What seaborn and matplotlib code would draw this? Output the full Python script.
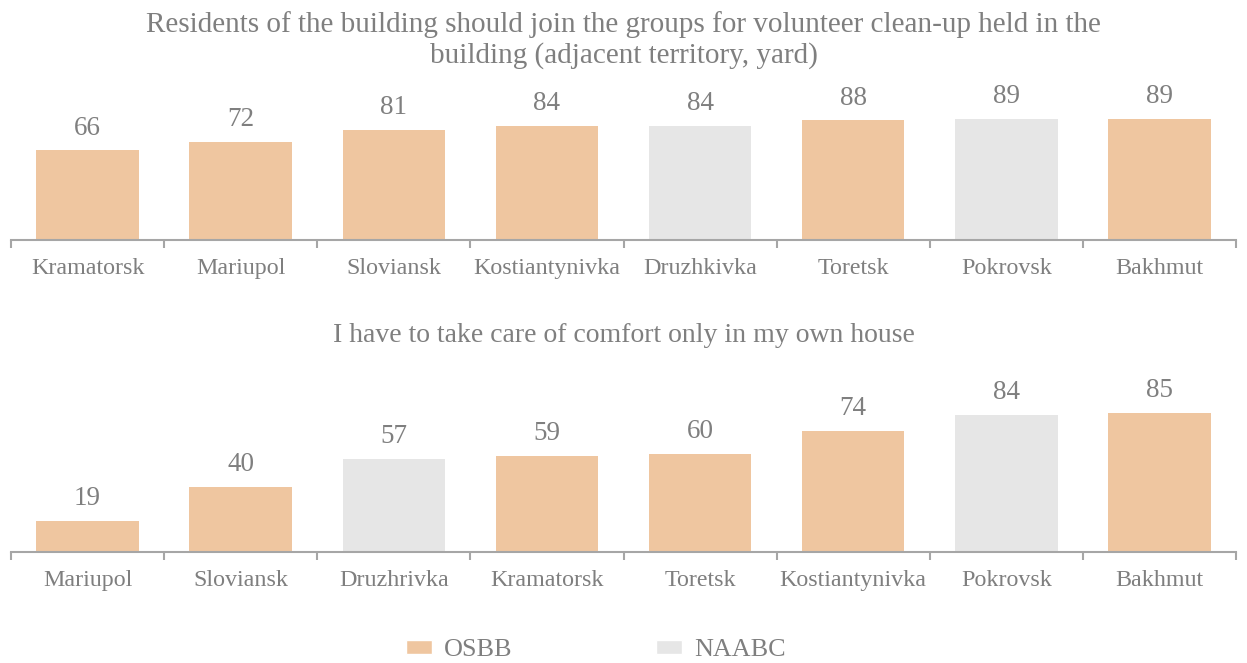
import matplotlib
matplotlib.use("Agg")
import matplotlib.pyplot as plt
from matplotlib.patches import Patch
import seaborn as sns
import pandas as pd

# Panel 1: joining volunteer clean-up groups
cities_1 = ["Kramatorsk", "Mariupol", "Sloviansk", "Kostiantynivka",
            "Druzhkivka", "Toretsk", "Pokrovsk", "Bakhmut"]
values_1 = [66, 72, 81, 84, 84, 88, 89, 89]
types_1 = ["OSBB", "OSBB", "OSBB", "OSBB", "NAABC", "OSBB", "NAABC", "OSBB"]
title_1 = ("Residents of the building should join the groups for volunteer clean-up held in the\n"
           "building (adjacent territory, yard)")

# Panel 2: comfort only in own house
cities_2 = ["Mariupol", "Sloviansk", "Druzhrivka", "Kramatorsk",
            "Toretsk", "Kostiantynivka", "Pokrovsk", "Bakhmut"]
values_2 = [19, 40, 57, 59, 60, 74, 84, 85]
types_2 = ["OSBB", "OSBB", "NAABC", "OSBB", "OSBB", "OSBB", "NAABC", "OSBB"]
title_2 = "I have to take care of comfort only in my own house"

palette = {"OSBB": "#EFC6A0", "NAABC": "#E6E6E6"}
TEXT = "#7F7F7F"
AXIS = "#A6A6A6"

sns.set_theme(style="white")
plt.rcParams["font.family"] = ["Liberation Serif", "DejaVu Serif"]

W, H = 1247, 663
fig = plt.figure(figsize=(W / 100, H / 100), dpi=100)


def panel(rect, cities, values, types, ymax):
    ax = fig.add_axes(rect)
    df = pd.DataFrame({"city": cities, "value": values, "type": types})
    sns.barplot(data=df, x="city", y="value", hue="type", palette=palette,
                dodge=False, width=0.67, legend=False, ax=ax,
                order=cities, hue_order=["OSBB", "NAABC"], saturation=1,
                linewidth=0)
    for c in ax.containers:
        labels = [f"{v:.0f}" if v == v else "" for v in c.datavalues]
        ax.bar_label(c, labels=labels, padding=7, fontsize=19.5, color=TEXT)
    ax.set_xlim(-0.5, len(cities) - 0.5)
    ax.set_ylim(0, ymax)
    ax.set_xlabel("")
    ax.set_ylabel("")
    ax.set_yticks([])
    for s in ["top", "right", "left"]:
        ax.spines[s].set_visible(False)
    ax.spines["bottom"].set_color(AXIS)
    ax.spines["bottom"].set_linewidth(1.5)
    ax.set_xticks(range(len(cities)))
    ax.set_xticklabels(cities, fontsize=17.3, color=TEXT)
    ax.tick_params(axis="x", which="major", length=0, pad=13)
    ax.set_xticks([i - 0.5 for i in range(len(cities) + 1)], minor=True)
    ax.tick_params(axis="x", which="minor", length=6, width=1.5,
                   color=AXIS, direction="out", bottom=True)
    return ax


left = 11 / W
width = (1236 - 11) / W
ax1 = panel([left, (H - 240) / H, width, 140 / H], cities_1, values_1, types_1, 140 / 1.36)
ax2 = panel([left, (H - 552) / H, width, 152 / H], cities_2, values_2, types_2, 152 / 1.635)

fig.text(0.5, (H - 40) / H, title_1, ha="center", va="center",
         fontsize=21, color=TEXT, linespacing=1.2)
fig.text(0.5, (H - 335) / H, title_2, ha="center", va="center",
         fontsize=20, color=TEXT)

handles = [Patch(facecolor=palette["OSBB"], label="OSBB"),
           Patch(facecolor=palette["NAABC"], label="NAABC")]
leg = fig.legend(handles=handles, loc="center", bbox_to_anchor=(0.478, (H - 650) / H),
                 ncol=2, frameon=False, fontsize=18.8, handlelength=1.0,
                 handleheight=0.45, handletextpad=0.45, columnspacing=5.5)
for t in leg.get_texts():
    t.set_color(TEXT)

fig.savefig("out.png", dpi=100)
